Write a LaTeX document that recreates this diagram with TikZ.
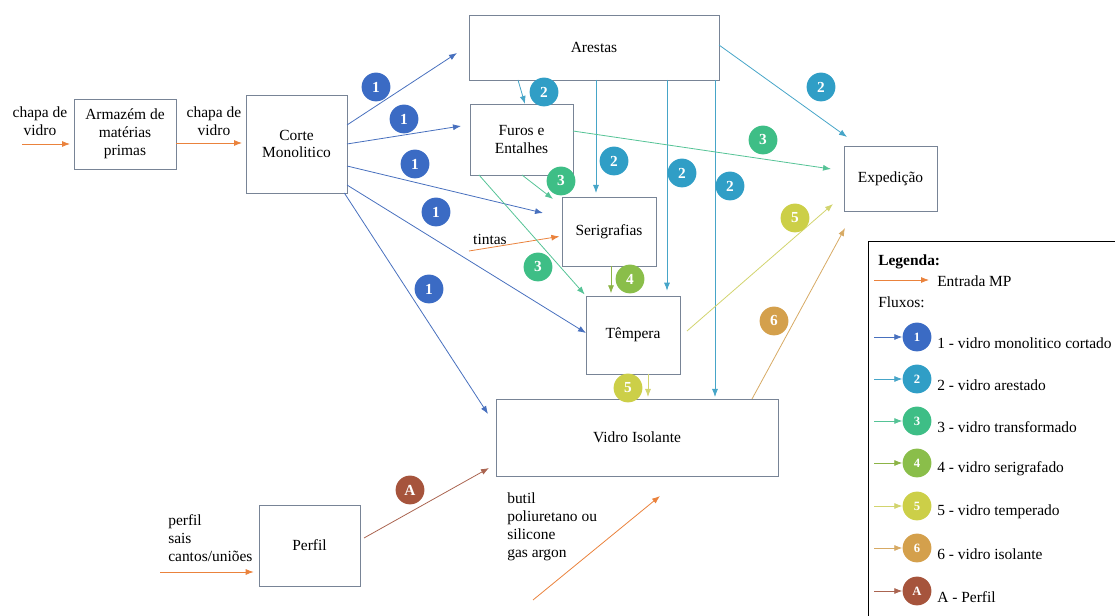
\documentclass[tikz,border=0pt]{standalone}
\usepackage{fontspec}
\setmainfont{Liberation Serif}
\usetikzlibrary{arrows.meta,calc}
\definecolor{c1}{RGB}{59,107,196}
\definecolor{c2}{RGB}{48,158,198}
\definecolor{c3}{RGB}{62,190,134}
\definecolor{c4}{RGB}{138,190,74}
\definecolor{c5}{RGB}{204,207,72}
\definecolor{c6}{RGB}{212,160,76}
\definecolor{cA}{RGB}{166,84,60}
\definecolor{l1}{RGB}{72,112,190}
\definecolor{l2}{RGB}{70,165,200}
\definecolor{l3}{RGB}{85,195,150}
\definecolor{l4}{RGB}{140,180,70}
\definecolor{l5}{RGB}{210,212,110}
\definecolor{l6}{RGB}{215,170,100}
\definecolor{lA}{RGB}{170,100,80}
\definecolor{orng}{RGB}{234,130,60}
\definecolor{boxgray}{RGB}{120,132,150}
\newcommand\dfont{\fontsize{11.6}{13.4}\selectfont}
\newcommand\cfont{\fontsize{11.5}{12}\selectfont\bfseries}
\newcommand\lgcfont{\fontsize{9.5}{10}\selectfont\bfseries}
\begin{document}
\begin{tikzpicture}[x=0.75pt,y=-0.75pt,
  box/.style={draw=boxgray, line width=0.6pt, fill=white, inner sep=0pt, outer sep=0pt, align=center, font=\dfont},
  lbl/.style={inner sep=0pt, align=center, font=\dfont},
  flow/.style={line width=0.6pt, draw=#1, -{Latex[length=6pt,width=4.5pt]}},
  circ/.style={circle, fill=#1, text=white, font=\cfont, inner sep=0pt, minimum size=21.6pt},
  lgcirc/.style={circ=#1, font=\lgcfont}
]
\useasboundingbox (0,0) rectangle (1115,616);

% boxes
\node[box, minimum width=76.5pt, minimum height=52.5pt] (armazem) at (125,134) {Armazém de\\matérias\\primas};
\node[box, minimum width=75.75pt, minimum height=73.5pt] (corte) at (296.5,144) {Corte\\Monolitico};
\node[box, minimum width=187.5pt, minimum height=48.75pt] (arestas) at (594,47.5) {Arestas};
\node[box, minimum width=77.25pt, minimum height=53.25pt] (furos) at (521.5,139.5) {Furos e\\Entalhes};
\node[box, minimum width=70.5pt, minimum height=51.75pt] (serig) at (609,231.5) {Serigrafias};
\node[box, minimum width=69.75pt, minimum height=48.75pt] (exped) at (890.5,178.5) {Expedição};
\node[box, minimum width=70.5pt, minimum height=58.5pt] (tempera) at (633,335) {Têmpera};
\node[box, minimum width=211.5pt, minimum height=57.75pt] (vidro) at (637,437.5) {Vidro Isolante};
\node[box, minimum width=75.75pt, minimum height=60.75pt] (perfil) at (309.5,545.5) {Perfil};

% input labels
\node[lbl] (t-chapa1) at (40,121) {chapa de\\vidro};
\node[lbl] (t-chapa2) at (214,121) {chapa de\\vidro};
\node[lbl] (t-tintas) at (490,239) {tintas};
\node[lbl, anchor=west, align=left] (t-perfil) at (168,538) {perfil\\sais\\cantos/uniões};
\node[lbl, anchor=west, align=left] (t-butil) at (507,527) {butil\\poliuretano ou\\silicone\\gas argon};

% free-end coordinates
\coordinate (in1) at (22,144);
\coordinate (in-tintas) at (469,251);
\coordinate (in-perfil) at (160,572);
\coordinate (in-butil-s) at (533,600);
\coordinate (in-butil-e) at (660,496);
\coordinate (e1a) at (457,53);
\coordinate (e1b) at (461,126);
\coordinate (e1c) at (543,213);
\coordinate (e1e) at (488,414);
\coordinate (e2e) at (847,137);
\coordinate (e3a) at (831,169);
\coordinate (e3b) at (553,199);
\coordinate (s5a) at (687,331);
\coordinate (e5a) at (833,204);
\coordinate (e6) at (845,228);
\coordinate (sA) at (364,538);
\coordinate (eA) at (489,468);

% orange inputs
\draw[flow=orng, shorten >=3pt] (in1) -- (armazem.west |- 0,144);
\draw[flow=orng] (armazem.east |- 0,143) -- ([xshift=-3pt]corte.west |- 0,143);
\draw[flow=orng, shorten >=2pt] (in-tintas) -- (serig.west |- 0,236);
\draw[flow=orng, shorten >=4pt] (in-perfil) -- (perfil.west |- 0,572);
\draw[flow=orng] (in-butil-s) -- (in-butil-e);

% flow 1
\draw[flow=l1] (corte.east |- 0,125) -- (e1a);
\draw[flow=l1] (corte.east |- 0,144) -- (e1b);
\draw[flow=l1] (corte.east |- 0,166) -- (e1c);
\draw[flow=l1] (corte.east |- 0,185) -- (tempera.west |- 0,333);
\draw[flow=l1] ([xshift=-2pt]corte.south east) -- (e1e);

% flow 2
\draw[flow=l2] (arestas.south -| 518,0) -- (furos.north -| 525,0);
\draw[flow=l2, shorten >=3pt] (arestas.south -| 596,0) -- (serig.north -| 596,0);
\draw[flow=l2, shorten >=4pt] (arestas.south -| 667,0) -- (tempera.north -| 667,0);
\draw[flow=l2, shorten >=1.5pt] (arestas.south -| 715,0) -- (vidro.north -| 715,0);
\draw[flow=l2] (arestas.east |- 0,45) -- (e2e);

% flow 3
\draw[flow=l3] (furos.east |- 0,131) -- (e3a);
\draw[flow=l3] (furos.south -| 522,0) -- (e3b);
\draw[flow=l3, shorten >=1.5pt] (furos.south -| 479,0) -- (tempera.north west);

% flow 4
\draw[flow=l4, shorten >=2pt] (serig.south -| 611,0) -- (tempera.north -| 611,0);

% flow 5
\draw[flow=l5] (s5a) -- (e5a);
\draw[flow=l5, shorten >=1.5pt] (tempera.south -| 648,0) -- (vidro.north -| 648,0);

% flow 6
\draw[flow=l6] (vidro.north -| 752,0) -- (e6);

% flow A
\draw[flow=lA] (sA) -- (eA);

% circles
\node[circ=c1] (n1a) at (376,87) {1};
\node[circ=c1] (n1b) at (404,119) {1};
\node[circ=c1] (n1c) at (415,164) {1};
\node[circ=c1] (n1d) at (436,212) {1};
\node[circ=c1] (n1e) at (429,289) {1};
\node[circ=c2] (n2a) at (544,92) {2};
\node[circ=c2] (n2b) at (614,161) {2};
\node[circ=c2] (n2c) at (682,173) {2};
\node[circ=c2] (n2d) at (730,186) {2};
\node[circ=c2] (n2e) at (821,87) {2};
\node[circ=c3] (n3a) at (763,140) {3};
\node[circ=c3] (n3b) at (561,181) {3};
\node[circ=c3] (n3c) at (538,267) {3};
\node[circ=c4] (n4) at (630,279) {4};
\node[circ=c5] (n5a) at (795,218) {5};
\node[circ=c5] (n5b) at (628,388) {5};
\node[circ=c6] (n6) at (774,321) {6};
\node[circ=cA] (nA) at (410,490) {A};

% legend
\draw[line width=0.6pt] (868,241) rectangle (1125,630);
\node[lbl, anchor=west, font=\dfont\bfseries] (lg-title) at (878,262) {Legenda:};
\coordinate (lg-mp-s) at (874,280);
\coordinate (lg-mp-e) at (929,280);
\draw[flow=orng] (lg-mp-s) -- (lg-mp-e);
\node[lbl, anchor=west] (lg-mp) at (937,281) {Entrada MP};
\node[lbl, anchor=west] (lg-fl) at (878,302) {Fluxos:};

\foreach \k/\lab/\cc/\ll/\yy/\txt in {
  1/1/c1/l1/337/{1 - vidro monolitico cortado},
  2/2/c2/l2/379/{2 - vidro arestado},
  3/3/c3/l3/421/{3 - vidro transformado},
  4/4/c4/l4/463/{4 - vidro serigrafado},
  5/5/c5/l5/506/{5 - vidro temperado},
  6/6/c6/l6/548/{6 - vidro isolante},
  7/A/cA/lA/591/{A - Perfil}} {
  \node[lgcirc=\cc] (lg-c\k) at (917,\yy) {\lab};
  \coordinate (lg-s\k) at (874,\yy);
  \draw[flow=\ll] (lg-s\k) -- (lg-c\k);
  \node[lbl, anchor=west] (lg-t\k) at (937,\yy+6) {\txt};
}
\end{tikzpicture}
\end{document}
